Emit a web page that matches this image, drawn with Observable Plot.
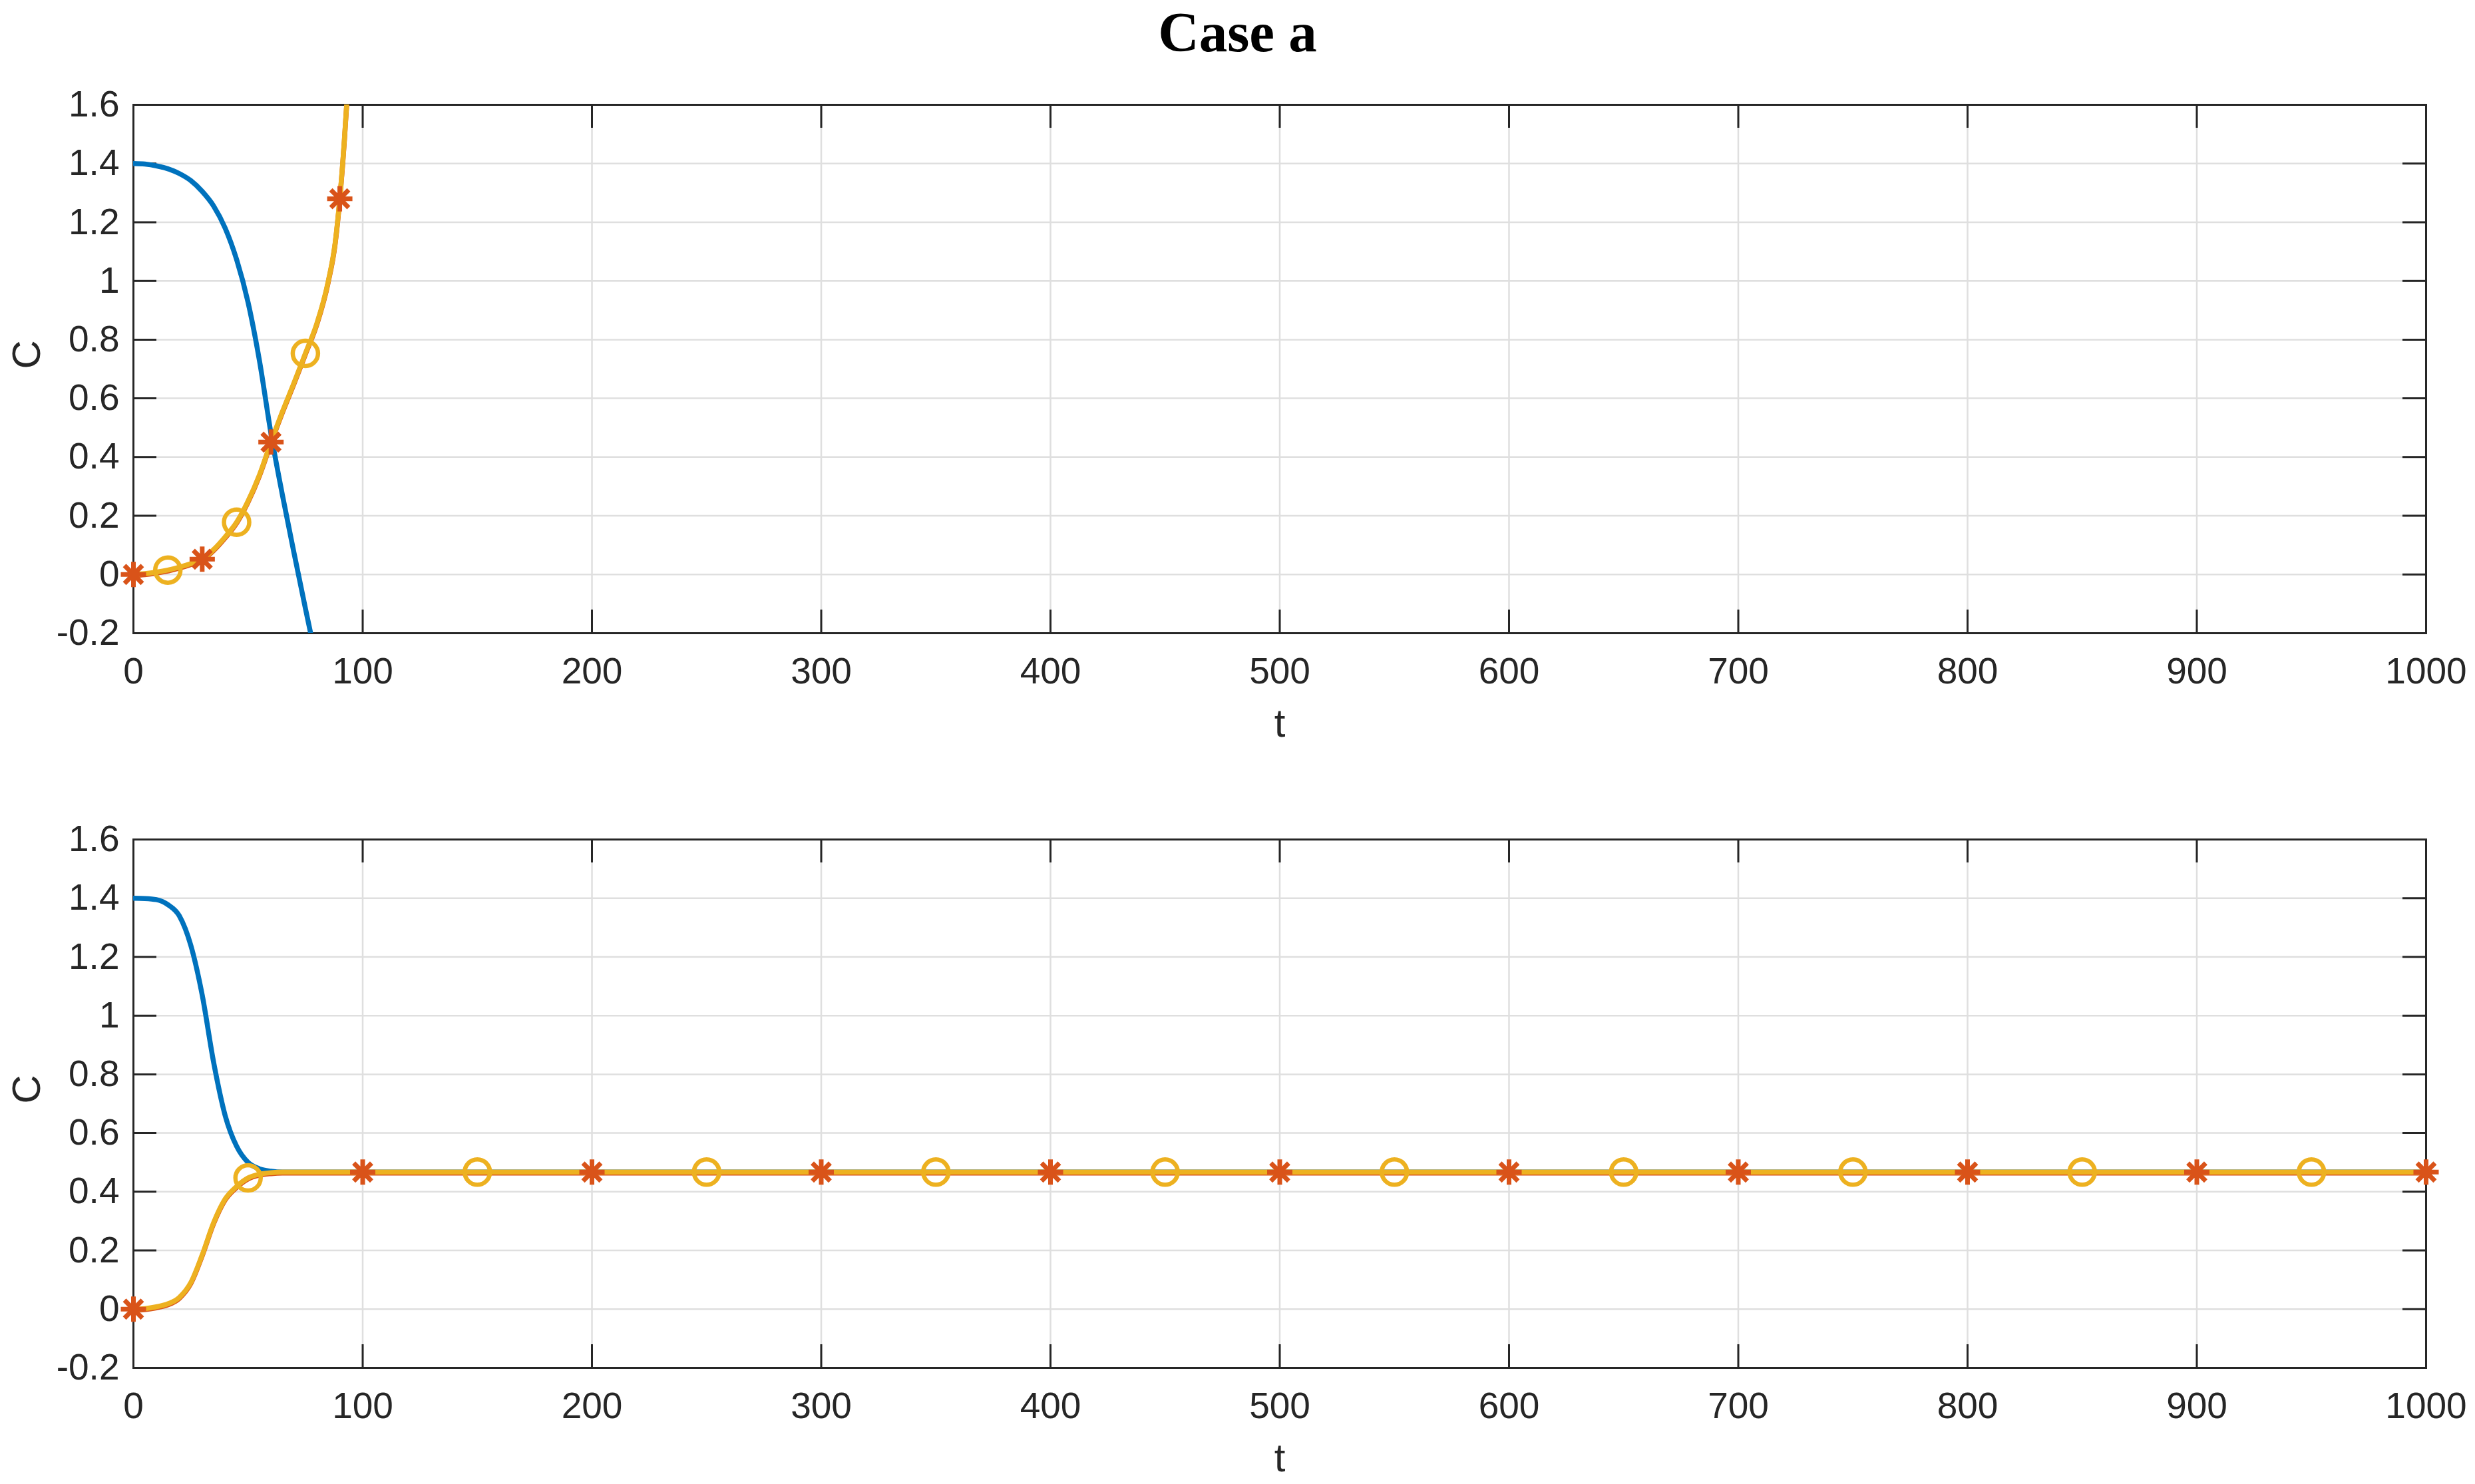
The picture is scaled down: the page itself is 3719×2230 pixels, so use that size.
<!DOCTYPE html>
<html>
<head>
<meta charset="utf-8">
<script src="https://cdn.jsdelivr.net/npm/d3@7"></script>
<script src="https://cdn.jsdelivr.net/npm/@observablehq/plot@0.6"></script>
<style>
  html, body { margin: 0; padding: 0; background: white; }
  #fig { position: relative; width: 3719px; height: 2230px; background: white; overflow: hidden; }
  #title { position: absolute; left: 0; top: 6px; width: 3719px; text-align: center;
           font-family: "Liberation Serif", "Times New Roman", serif; font-weight: bold;
           font-size: 85px; line-height: 85px; color: #000; }
  .panel { position: absolute; left: 0; }
</style>
</head>
<body>
<div id="fig">
  <div id="title">Case a</div>
  <div id="top" class="panel" style="top:100px"></div>
  <div id="bottom" class="panel" style="top:1160px"></div>
</div>
<script>
// ---------- data ----------
const title = "Case a";
const xLabel = "t";
const yLabel = "C";
const xTicks = [0, 100, 200, 300, 400, 500, 600, 700, 800, 900, 1000];
const yTicks = [-0.2, 0, 0.2, 0.4, 0.6, 0.8, 1, 1.2, 1.4, 1.6];

// top panel
const topBlueT = [0, 5, 10, 15, 20, 25, 30, 35, 40, 45, 50, 55, 60, 65, 70, 75, 80];
const topBlueC = [1.400, 1.398, 1.392, 1.382, 1.366, 1.342, 1.305, 1.255, 1.18, 1.073, 0.927, 0.727, 0.48, 0.27, 0.075, -0.115, -0.30];
const topYellowT = [0, 5, 10, 15, 20, 25, 30, 35, 40, 45, 50, 55, 60, 65, 70, 75, 80, 85, 88, 90, 92, 93, 94];
const topYellowC = [0, 0.003, 0.008, 0.015, 0.025, 0.037, 0.052, 0.085, 0.128, 0.178, 0.25, 0.34, 0.451, 0.555, 0.652, 0.753, 0.855, 1.0, 1.13, 1.28, 1.48, 1.6, 1.74];
const topStarT = [0, 30, 60, 90];
const topStarC = [0, 0.052, 0.451, 1.28];
const topCircleT = [15, 45, 75];
const topCircleC = [0.015, 0.178, 0.753];

// bottom panel
const botBlueT = [0, 5, 10, 15, 20, 25, 30, 35, 40, 45, 50, 55, 60, 65, 70, 100, 1000];
const botBlueC = [1.400, 1.399, 1.395, 1.378, 1.34, 1.24, 1.07, 0.84, 0.66, 0.555, 0.50, 0.478, 0.47, 0.467, 0.467, 0.467, 0.467];
const botYellowT = [0, 5, 10, 15, 20, 25, 30, 35, 40, 45, 50, 55, 60, 65, 70, 100, 1000];
const botYellowC = [0, 0.002, 0.008, 0.018, 0.04, 0.09, 0.185, 0.295, 0.375, 0.418, 0.447, 0.46, 0.465, 0.467, 0.467, 0.467, 0.467];
const botStarT = [0, 100, 200, 300, 400, 500, 600, 700, 800, 900, 1000];
const botStarC = [0, 0.467, 0.467, 0.467, 0.467, 0.467, 0.467, 0.467, 0.467, 0.467, 0.467];
const botCircleT = [50, 150, 250, 350, 450, 550, 650, 750, 850, 950];
const botCircleC = [0.447, 0.467, 0.467, 0.467, 0.467, 0.467, 0.467, 0.467, 0.467, 0.467];

// ---------- styles ----------
const BLUE = "#0072BD", RED = "#D95319", YELLOW = "#EDB120";
const AXIS = "#262626", GRID = "#dfdfdf";
const W = 3719, ML = 200, MR = 74;
const PLOT_H = 794, TICK = 35;

const zip = (t, c) => t.map((d, i) => ({t: d, c: c[i]}));

const matlabAsterisk = {
  draw(ctx, size) {
    const r = Math.sqrt(size / Math.PI);
    const d = r * Math.SQRT1_2;
    ctx.moveTo(-r, 0); ctx.lineTo(r, 0);
    ctx.moveTo(0, -r); ctx.lineTo(0, r);
    ctx.moveTo(-d, -d); ctx.lineTo(d, d);
    ctx.moveTo(-d, d); ctx.lineTo(d, -d);
  }
};

const yFmt = d => String(Math.round(d * 10) / 10);
const xFmt = d => String(d);

function panel({height, marginTop, marginBottom, blue, yellow, stars, circles}) {
  const plotW = W - ML - MR;
  return Plot.plot({
    width: W, height, marginLeft: ML, marginRight: MR, marginTop, marginBottom,
    x: {domain: [0, 1000]},
    y: {domain: [-0.2, 1.6]},
    style: {fontFamily: "'Liberation Sans', Arial, Helvetica, sans-serif", fontSize: "55px", color: AXIS, background: "white", overflow: "visible"},
    marks: [
      Plot.gridX(xTicks, {stroke: GRID, strokeOpacity: 1, strokeWidth: 2.5}),
      Plot.gridY(yTicks, {stroke: GRID, strokeOpacity: 1, strokeWidth: 2.5}),
      // inward ticks
      Plot.ruleX(xTicks, {x: d => d, insetTop: PLOT_H - TICK, stroke: AXIS, strokeWidth: 3}),
      Plot.ruleX(xTicks, {x: d => d, insetBottom: PLOT_H - TICK, stroke: AXIS, strokeWidth: 3}),
      Plot.ruleY(yTicks, {y: d => d, insetRight: plotW - TICK, stroke: AXIS, strokeWidth: 3}),
      Plot.ruleY(yTicks, {y: d => d, insetLeft: plotW - TICK, stroke: AXIS, strokeWidth: 3}),
      Plot.frame({stroke: AXIS, strokeWidth: 3}),
      Plot.axisX(xTicks, {tickSize: 0, tickPadding: 36, tickFormat: xFmt, label: null, fontSize: 55}),
      Plot.axisY(yTicks, {tickSize: 0, tickPadding: 21, tickFormat: yFmt, label: null, fontSize: 55}),
      // series lines
      Plot.line(blue, {x: "t", y: "c", stroke: BLUE, strokeWidth: 7.5, curve: "monotone-x", clip: true}),
      Plot.line(yellow, {x: "t", y: "c", stroke: RED, strokeWidth: 7.5, curve: "monotone-x", clip: true, dy: 1.5}),
      Plot.line(yellow, {x: "t", y: "c", stroke: YELLOW, strokeWidth: 7.5, curve: "monotone-x", clip: true}),
      // markers
      Plot.dot(stars, {x: "t", y: "c", symbol: matlabAsterisk, r: 19, stroke: RED, strokeWidth: 7, fill: "none"}),
      Plot.dot(circles, {x: "t", y: "c", symbol: "circle", r: 19, stroke: YELLOW, strokeWidth: 6.5, fill: "none"}),
      // axis titles
      Plot.text([xLabel], {text: d => d, frameAnchor: "bottom", lineAnchor: "bottom", dy: 155, fontSize: 60, fill: AXIS}),
      Plot.text([yLabel], {text: d => d, frameAnchor: "left", dx: -160, rotate: -90, fontSize: 60, fill: AXIS})
    ]
  });
}

document.getElementById("title").textContent = title;

document.getElementById("top").append(panel({
  height: 1020, marginTop: 57, marginBottom: 169,
  blue: zip(topBlueT, topBlueC), yellow: zip(topYellowT, topYellowC),
  stars: zip(topStarT, topStarC), circles: zip(topCircleT, topCircleC)
}));

document.getElementById("bottom").append(panel({
  height: 1070, marginTop: 101, marginBottom: 175,
  blue: zip(botBlueT, botBlueC), yellow: zip(botYellowT, botYellowC),
  stars: zip(botStarT, botStarC), circles: zip(botCircleT, botCircleC)
}));
</script>
</body>
</html>
